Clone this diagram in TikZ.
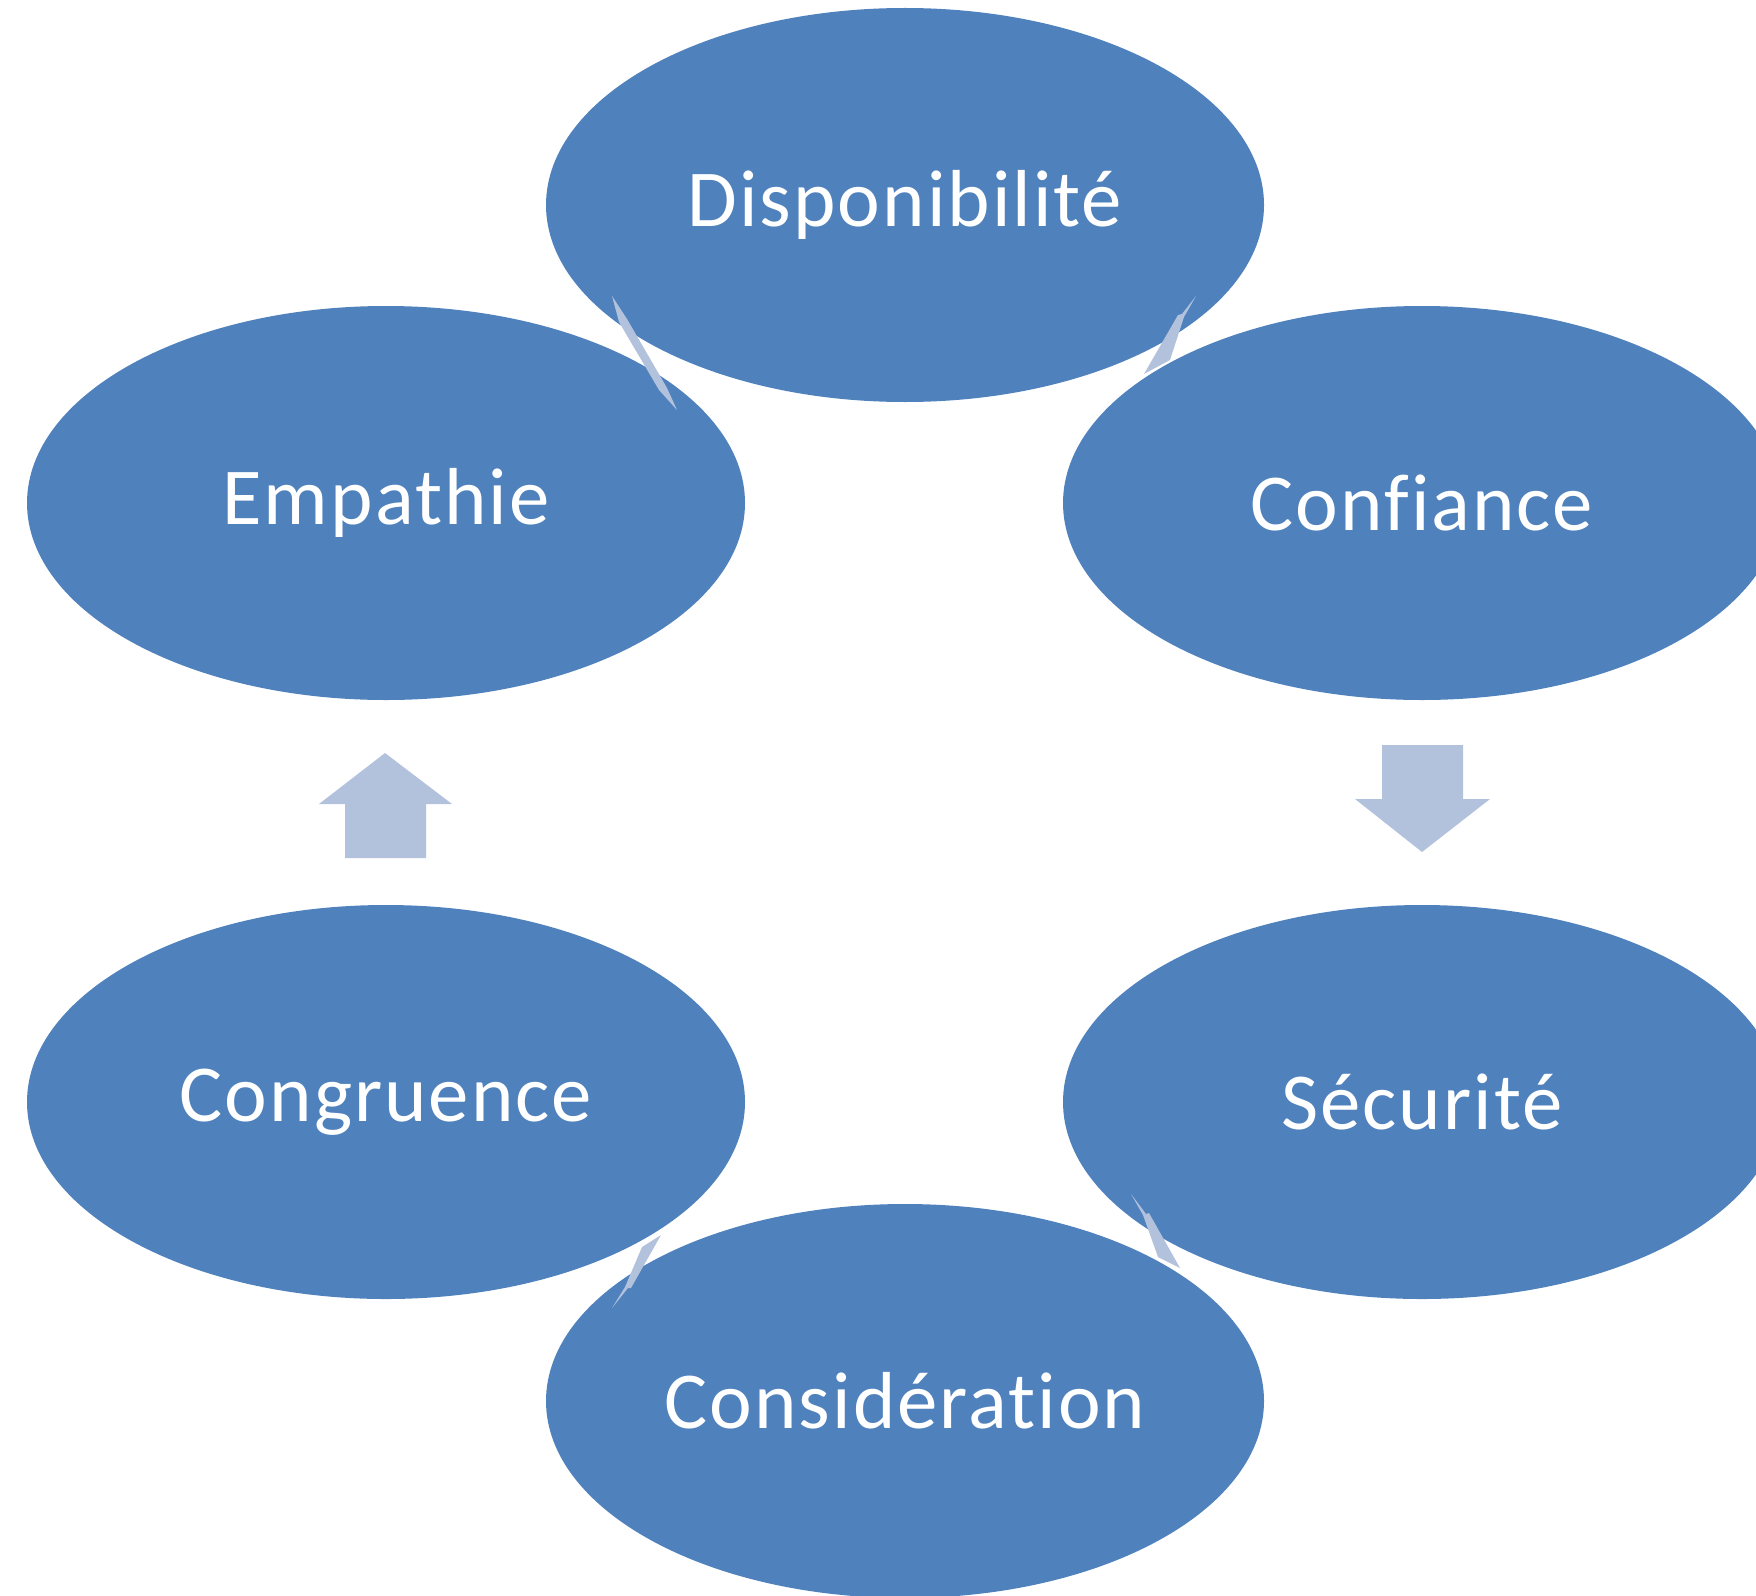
\documentclass[tikz,border=0pt]{standalone}
\usepackage{fontspec}
\setmainfont{Carlito}[Ligatures={NoCommon,NoRare,NoContextual}, LetterSpace=2.5]
\usetikzlibrary{shapes.geometric}
\definecolor{ovalblue}{RGB}{79,129,189}
\definecolor{linkblue}{RGB}{179,194,220}
\begin{document}
\begin{tikzpicture}
 \tikzset{oval/.style={ellipse, fill=ovalblue, text=white, inner sep=0pt,
   minimum width=7.18cm, minimum height=3.94cm, font=\fontsize{23}{28}\selectfont},
   link/.style={fill=linkblue}}
  \useasboundingbox (0,0) rectangle (17.56,15.95);
  \clip (0,0) rectangle (17.56,15.95);
  \node[oval] (Di) at (9.05,13.90) {Disponibilité};
  \node[oval] (Em) at (3.86,10.92) {Empathie};
  \node[oval] (Cf) at (14.22,10.92) {Confiance};
  \node[oval] (Cg) at (3.86,4.93) {Congruence};
  \node[oval] (Se) at (14.22,4.93) {Sécurité};
  \node[oval] (Cs) at (9.05,1.94) {Considération};
  % thin arrows between the ovals
  \fill[link] (6.12,12.99) -- (6.27,12.76) -- (6.67,12.07) -- (6.77,11.85) -- (6.59,12.05) -- (6.19,12.73) -- cycle;
  \fill[link] (11.96,12.99) -- (11.84,12.78) -- (11.70,12.35) -- (11.44,12.21) -- (11.78,12.80) -- (11.82,12.81) -- cycle;
  \fill[link] (11.31,4.01) -- (11.46,3.81) -- (11.49,3.82) -- (11.80,3.27) -- (11.58,3.38) -- (11.43,3.80) -- cycle;
  \fill[link] (6.61,3.60) -- (6.42,3.48) -- (6.25,3.08) -- (6.12,2.87) -- (6.28,3.07) -- (6.31,3.07) -- cycle;
  % block arrows
  \fill[link] (3.85,8.42) -- (4.52,7.91) -- (4.26,7.91) -- (4.26,7.37) -- (3.45,7.37) -- (3.45,7.91) -- (3.19,7.91) -- cycle;
  \fill[link] (14.22,7.43) -- (14.90,7.96) -- (14.63,7.96) -- (14.63,8.50) -- (13.82,8.50) -- (13.82,7.96) -- (13.55,7.96) -- cycle;
\end{tikzpicture}
\end{document}
